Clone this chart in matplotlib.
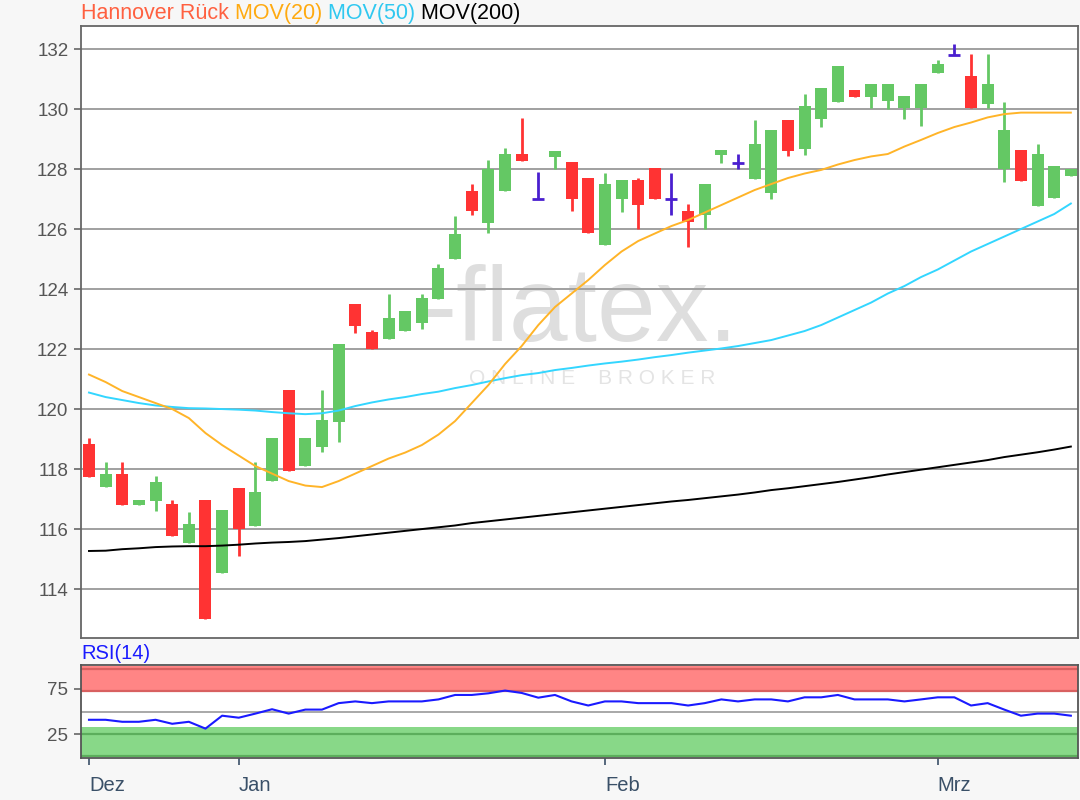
import matplotlib
matplotlib.use("Agg")
import matplotlib.pyplot as plt
import numpy as np

plt.rcParams['font.family'] = ['Liberation Sans', 'DejaVu Sans']

# Kerzen (Open, High, Low, Close), eine pro Handelstag
opens = [118.83, 117.40, 117.83, 116.79, 116.93, 116.82, 115.52, 116.97, 114.52, 117.36,
         116.11, 117.59, 120.63, 118.11, 118.72, 119.58, 123.50, 122.56, 122.33, 122.60,
         122.88, 123.67, 125.00, 127.28, 126.19, 127.27, 128.50, 127.01, 128.41, 128.22,
         127.69, 125.46, 126.99, 127.62, 128.02, 127.01, 126.61, 126.47, 128.46, 128.19,
         127.66, 127.19, 129.63, 128.66, 129.66, 130.24, 130.62, 130.39, 130.27, 130.04,
         130.02, 131.19, 131.80, 131.09, 130.18, 128.01, 128.62, 126.78, 127.04, 127.78]
highs = [119.02, 118.22, 118.22, 116.97, 117.77, 116.97, 116.56, 116.97, 116.63, 117.36,
         118.22, 119.02, 120.63, 119.02, 120.63, 122.16, 123.50, 122.63, 123.83, 123.28,
         123.83, 124.83, 126.43, 127.49, 128.30, 128.69, 129.69, 127.89, 128.61, 128.22,
         127.69, 127.88, 127.62, 127.69, 128.02, 127.88, 126.83, 127.50, 128.63, 128.49,
         129.63, 129.29, 129.63, 130.50, 130.69, 131.42, 130.62, 130.82, 130.82, 130.42,
         130.82, 131.64, 132.17, 131.82, 131.82, 130.22, 128.62, 128.83, 128.09, 128.01]
lows = [117.72, 117.40, 116.79, 116.79, 116.59, 115.78, 115.52, 112.99, 114.52, 115.11,
        116.11, 117.59, 117.92, 118.11, 118.58, 118.91, 122.52, 122.00, 122.33, 122.60,
        122.66, 123.67, 125.00, 126.47, 125.86, 127.27, 128.27, 127.01, 128.00, 126.60,
        125.86, 125.46, 126.58, 126.00, 126.99, 126.47, 125.39, 126.00, 128.19, 127.99,
        127.66, 126.99, 128.43, 128.46, 129.39, 130.24, 130.39, 130.04, 130.00, 129.66,
        129.44, 131.19, 131.80, 130.04, 130.04, 127.58, 127.59, 126.78, 127.04, 127.78]
closes = [117.72, 117.83, 116.79, 116.97, 117.56, 115.78, 116.16, 112.99, 116.63, 116.00,
          117.22, 119.02, 117.92, 119.02, 119.62, 122.16, 122.78, 122.00, 123.02, 123.28,
          123.69, 124.69, 125.83, 126.60, 128.00, 128.50, 128.27, 127.01, 128.61, 127.00,
          125.86, 127.50, 127.62, 126.79, 126.99, 127.01, 126.24, 127.50, 128.63, 128.19,
          128.82, 129.29, 128.59, 130.09, 130.69, 131.42, 130.39, 130.82, 130.82, 130.42,
          130.82, 131.49, 131.80, 130.04, 130.82, 129.29, 127.59, 128.49, 128.09, 128.01]

mov20 = [121.15, 120.90, 120.60, 120.40, 120.20, 120.00, 119.70, 119.20, 118.80, 118.45,
         118.10, 117.85, 117.60, 117.45, 117.40, 117.60, 117.85, 118.10, 118.35, 118.55,
         118.80, 119.15, 119.60, 120.20, 120.80, 121.50, 122.10, 122.80, 123.40, 123.85,
         124.30, 124.80, 125.25, 125.60, 125.85, 126.10, 126.30, 126.55, 126.80, 127.05,
         127.30, 127.50, 127.70, 127.85, 127.97, 128.15, 128.30, 128.42, 128.50, 128.75,
         128.97, 129.20, 129.40, 129.55, 129.72, 129.83, 129.88, 129.88, 129.88, 129.88]
mov50 = [120.55, 120.40, 120.30, 120.20, 120.12, 120.07, 120.03, 120.02, 120.00, 119.98,
         119.95, 119.90, 119.86, 119.83, 119.86, 119.95, 120.10, 120.22, 120.32, 120.40,
         120.50, 120.58, 120.70, 120.80, 120.92, 121.03, 121.13, 121.20, 121.30, 121.37,
         121.45, 121.52, 121.58, 121.65, 121.73, 121.80, 121.88, 121.95, 122.02, 122.10,
         122.20, 122.30, 122.45, 122.60, 122.80, 123.05, 123.30, 123.55, 123.85, 124.10,
         124.40, 124.65, 124.95, 125.25, 125.50, 125.75, 126.00, 126.25, 126.50, 126.85]
mov200 = [115.27, 115.28, 115.33, 115.36, 115.40, 115.42, 115.43, 115.43, 115.45, 115.48,
          115.52, 115.55, 115.57, 115.60, 115.65, 115.70, 115.76, 115.82, 115.88, 115.94,
          116.00, 116.06, 116.12, 116.20, 116.26, 116.32, 116.38, 116.44, 116.50, 116.56,
          116.62, 116.68, 116.74, 116.80, 116.86, 116.92, 116.97, 117.03, 117.09, 117.15,
          117.22, 117.30, 117.36, 117.43, 117.50, 117.57, 117.65, 117.73, 117.82, 117.90,
          117.98, 118.06, 118.14, 118.22, 118.30, 118.40, 118.48, 118.56, 118.65, 118.75]

rsi = [41.0, 41.0, 38.8, 38.8, 41.0, 36.6, 38.8, 31.3, 45.5, 43.3,
       47.8, 52.6, 47.8, 52.2, 52.2, 59.3, 61.2, 59.3, 61.2, 61.2,
       61.2, 63.4, 68.3, 68.3, 70.1, 73.1, 70.5, 65.3, 68.3, 61.2,
       56.7, 61.2, 61.2, 59.3, 59.3, 59.3, 56.7, 59.3, 63.4, 61.2,
       63.4, 63.4, 61.2, 65.7, 65.7, 68.3, 63.4, 63.4, 63.4, 61.2,
       63.4, 65.7, 65.7, 56.7, 59.3, 52.2, 45.5, 47.8, 47.8, 45.5]

month_ticks = [0, 9, 31, 51]
month_labels = ["Dez", "Jan", "Feb", "Mrz"]
price_ticks = [114, 116, 118, 120, 122, 124, 126, 128, 130, 132]

o = np.array(opens); h = np.array(highs); l = np.array(lows); c = np.array(closes)
x = np.arange(len(o))

RED = '#ff3333'
GREEN = '#64c864'
DOJI = '#4a1fcf'

fig = plt.figure(figsize=(10.8, 8), dpi=100, facecolor='#f7f7f7')
ax1 = fig.add_axes([0.075, 0.2025, 0.923, 0.7655])
ax2 = fig.add_axes([0.075, 0.0525, 0.923, 0.116])

# --- Kurs-Panel
ax1.set_facecolor('white')
# Wasserzeichen
ax1.text(0.50, 0.53, "-flatex.", transform=ax1.transAxes, fontsize=76,
         color='#dedede', ha='center', va='center', zorder=0)
ax1.text(0.513, 0.423, "O N L I N E    B R O K E R", transform=ax1.transAxes,
         fontsize=15, color='#e4e4e4', ha='center', va='center', zorder=0)

up = c > o
down = c < o
flat = c == o
ax1.vlines(x[up], l[up], h[up], color=GREEN, lw=2, zorder=2)
ax1.vlines(x[down], l[down], h[down], color=RED, lw=2, zorder=2)
ax1.bar(x[up], (c - o)[up], bottom=o[up], width=0.72, color=GREEN, zorder=3)
ax1.bar(x[down], (o - c)[down], bottom=c[down], width=0.72, color=RED, zorder=3)
ax1.vlines(x[flat], l[flat], h[flat], color=DOJI, lw=2, zorder=3)
ax1.hlines(c[flat], x[flat] - 0.36, x[flat] + 0.36, color=DOJI, lw=2, zorder=3)

ax1.plot(x, mov200, color='black', lw=1.4, zorder=4)
ax1.plot(x, mov50, color='#33d6ff', lw=1.4, zorder=4)
ax1.plot(x, mov20, color='#ffb428', lw=1.4, zorder=4)

ax1.set_xlim(-0.48, 59.42)
ax1.set_ylim(112.37, 132.78)
ax1.set_yticks(price_ticks)
ax1.set_xticks([])
ax1.yaxis.grid(True, color='#a0a0a0', lw=1.4)
ax1.set_axisbelow(True)
ax1.tick_params(axis='y', colors='#666666', labelcolor='#555555', labelsize=13.5,
                length=5, width=1.2, pad=4)
for s in ax1.spines.values():
    s.set_color('#666666')
    s.set_linewidth(1.3)

# Titelzeile mit Legende
prev = fig.text(0.075, 0.9835, "Hannover Rück", color='#ff6040', fontsize=15.5, va='center')
for txt, col in ((" MOV(20)", '#ffaa10'), (" MOV(50)", '#30c8f0'), (" MOV(200)", 'black')):
    prev = ax1.annotate(txt, xy=(1, 0), xycoords=prev, va='bottom', ha='left',
                        color=col, fontsize=15.5, annotation_clip=False)

# --- RSI-Panel
ax2.set_facecolor('white')
ax2.axhspan(71.5, 100, color='#ff8585', lw=0, zorder=1)
ax2.axhspan(0, 33, color='#88d888', lw=0, zorder=1)
for yy in (73, 96.5):
    ax2.axhline(yy, color='#d86060', lw=1.6, zorder=1.5)
for yy in (25.5, 1):
    ax2.axhline(yy, color='#5cae5c', lw=1.6, zorder=1.5)
ax2.axhline(50, color='#a8a8a8', lw=1.4, zorder=1.5)
ax2.plot(x, rsi, color='#1a1aff', lw=1.5, zorder=3)
ax2.set_xlim(-0.48, 59.42)
ax2.set_ylim(-1, 101)
ax2.set_yticks([25, 75])
ax2.set_xticks(month_ticks)
ax2.set_xticklabels(month_labels, ha='left')
ax2.tick_params(axis='y', colors='#666666', labelcolor='#555555', labelsize=13.5,
                length=5, width=1.2, pad=4)
ax2.tick_params(axis='x', colors='#3a5068', labelcolor='#3a5068', labelsize=14.5,
                length=5, width=1.2, pad=8)
for s in ax2.spines.values():
    s.set_color('#555555')
    s.set_linewidth(1.3)
fig.text(0.075, 0.183, "RSI(14)", color='#1a1aff', fontsize=14.5, va='center')

fig.savefig("out.png", dpi=100, facecolor=fig.get_facecolor())
